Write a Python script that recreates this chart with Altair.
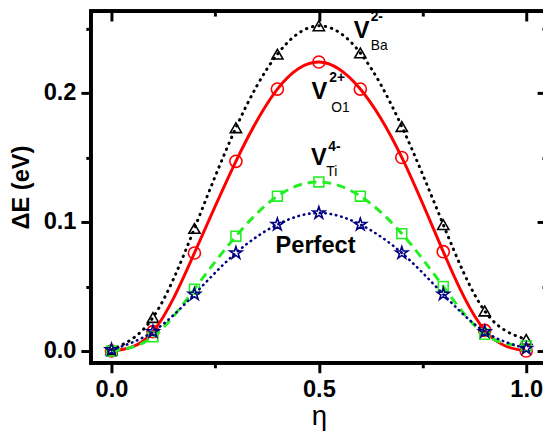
import altair as alt
import pandas as pd

# ---- data ----
eta = [0.0, 0.1, 0.2, 0.3, 0.4, 0.5, 0.6, 0.7, 0.8, 0.9, 1.0]
v_ba = [0.001, 0.026, 0.095, 0.173, 0.230, 0.252, 0.231, 0.174, 0.098, 0.031, 0.009]
v_o1 = [0.000, 0.015, 0.076, 0.147, 0.203, 0.224, 0.203, 0.150, 0.077, 0.016, 0.000]
v_ti = [0.000, 0.011, 0.048, 0.089, 0.120, 0.131, 0.120, 0.091, 0.050, 0.013, 0.004]
perfect = [0.001, 0.015, 0.044, 0.076, 0.098, 0.107, 0.098, 0.076, 0.044, 0.015, 0.002]

x_major = [0.0, 0.5, 1.0]
x_minor = [0.25, 0.75]
y_major = [0.0, 0.1, 0.2]
y_minor = [0.05, 0.15, 0.25]

# label annotations (data coordinates)
main_text = ["V", "V", "V", "Perfect"]
main_x = [0.603, 0.501, 0.500, 0.492]
main_y = [0.2427, 0.1954, 0.1443, 0.0763]
sup_text = ["2-", "2+", "4-"]
sup_x = [0.625, 0.525, 0.5226]
sup_y = [0.2557, 0.2084, 0.1550]
sub_text = ["Ba", "O1", "Ti"]
sub_x = [0.625, 0.530, 0.518]
sub_y = [0.2336, 0.1855, 0.1359]

df = pd.DataFrame({"eta": eta, "ba": v_ba, "o1": v_o1, "ti": v_ti, "perfect": perfect})
main_df = pd.DataFrame({"t": main_text, "x": main_x, "y": main_y})
sup_df = pd.DataFrame({"t": sup_text, "x": sup_x, "y": sup_y})
sub_df = pd.DataFrame({"t": sub_text, "x": sub_x, "y": sub_y})

FONT = "Liberation Sans"
W, H = 463, 357
xs = alt.Scale(domain=[-0.05, 1.05], nice=False, zero=False)
ys = alt.Scale(domain=[-0.00916, 0.2634], nice=False, zero=False)

STAR = ("M0,-1L0.2245,-0.309L0.951,-0.309L0.363,0.118L0.588,0.809L0,0.382"
        "L-0.588,0.809L-0.363,0.118L-0.951,-0.309L-0.2245,-0.309Z")

tick_common = dict(domain=False, grid=False, tickColor="black", tickWidth=3)

x_axis_main = alt.Axis(orient="bottom", values=x_major, format=".1f", tickSize=10, labelFont=FONT,
                       labelFontWeight="bold", labelFontSize=24, labelColor="black",
                       labelPadding=5, labelFlush=False, title="η", titleFont=FONT,
                       titleFontSize=28, titleFontWeight="normal", titleColor="black",
                       titlePadding=2, **tick_common)
y_axis_main = alt.Axis(orient="left", values=y_major, format=".1f", tickSize=10, labelFont=FONT,
                       labelFontWeight="bold", labelFontSize=24, labelColor="black",
                       labelPadding=5, labelFlush=False, title="ΔE (eV)", titleFont=FONT,
                       titleFontSize=24, titleFontWeight="bold", titleColor="black",
                       titlePadding=10, **tick_common)


def axis_layer(xax, yax):
    return alt.Chart(df).mark_point(opacity=0).encode(
        x=alt.X("eta:Q", scale=xs, axis=xax),
        y=alt.Y("ba:Q", scale=ys, axis=yax),
    )


layers = []
layers.append(axis_layer(x_axis_main, y_axis_main))
layers.append(axis_layer(
    alt.Axis(orient="bottom", values=x_minor, tickSize=5, labels=False, title=None, **tick_common),
    alt.Axis(orient="left", values=y_minor, tickSize=5, labels=False, title=None, **tick_common)))
layers.append(axis_layer(
    alt.Axis(orient="top", values=x_major, tickSize=10, offset=-10, labels=False, title=None, **tick_common),
    alt.Axis(orient="right", values=y_major, tickSize=10, offset=-10, labels=False, title=None, **tick_common)))
layers.append(axis_layer(
    alt.Axis(orient="top", values=x_minor, tickSize=5, offset=-5, labels=False, title=None, **tick_common),
    alt.Axis(orient="right", values=y_minor, tickSize=5, offset=-5, labels=False, title=None, **tick_common)))

# plot frame
layers.append(alt.Chart(df).mark_rect(fill=None, stroke="black", strokeWidth=3,
                                      strokeJoin="miter").encode(
    x=alt.value(0), x2=alt.value(W), y=alt.value(0), y2=alt.value(H)))

series = [
    ("ba", "black", [0.5, 6], 3, "round", "triangle-up", 130),
    ("o1", "#ff0000", None, 3, "butt", "circle", 150),
    ("ti", "#22ee22", [9, 6], 3, "butt", "square", 100),
    ("perfect", "#000080", [0.5, 5], 2.6, "round", STAR, 170),
]

for col, color, dash, w, cap, shape, size in series:
    kw = dict(interpolate="natural", color=color, strokeWidth=w, strokeCap=cap)
    if dash is not None:
        kw["strokeDash"] = dash
    layers.append(alt.Chart(df).mark_line(**kw).encode(
        x=alt.X("eta:Q", scale=xs, axis=None),
        y=alt.Y(f"{col}:Q", scale=ys, axis=None),
    ))
    layers.append(alt.Chart(df).mark_point(shape=shape, filled=False, color=color,
                                           strokeWidth=1.6, size=size, opacity=1).encode(
        x=alt.X("eta:Q", scale=xs, axis=None),
        y=alt.Y(f"{col}:Q", scale=ys, axis=None),
    ))

layers.append(alt.Chart(main_df).mark_text(font=FONT, fontWeight="bold", fontSize=24,
                                           align="center", baseline="alphabetic",
                                           color="black").encode(
    x=alt.X("x:Q", scale=xs, axis=None), y=alt.Y("y:Q", scale=ys, axis=None), text="t:N"))
layers.append(alt.Chart(sup_df).mark_text(font=FONT, fontWeight="bold", fontSize=14,
                                          align="left", baseline="alphabetic",
                                          color="black").encode(
    x=alt.X("x:Q", scale=xs, axis=None), y=alt.Y("y:Q", scale=ys, axis=None), text="t:N"))
layers.append(alt.Chart(sub_df).mark_text(font=FONT, fontWeight="normal", fontSize=14,
                                          align="left", baseline="alphabetic",
                                          color="black").encode(
    x=alt.X("x:Q", scale=xs, axis=None), y=alt.Y("y:Q", scale=ys, axis=None), text="t:N"))

chart = alt.layer(*layers).resolve_axis(x="independent", y="independent").properties(
    width=W, height=H,
    background="white",
    autosize=alt.AutoSizeParams(type="none"),
    padding={"left": 84, "top": 0, "right": -4, "bottom": 66},
).configure_view(stroke=None)

chart.save("out.html", embed_options={"renderer": "svg", "actions": False})
